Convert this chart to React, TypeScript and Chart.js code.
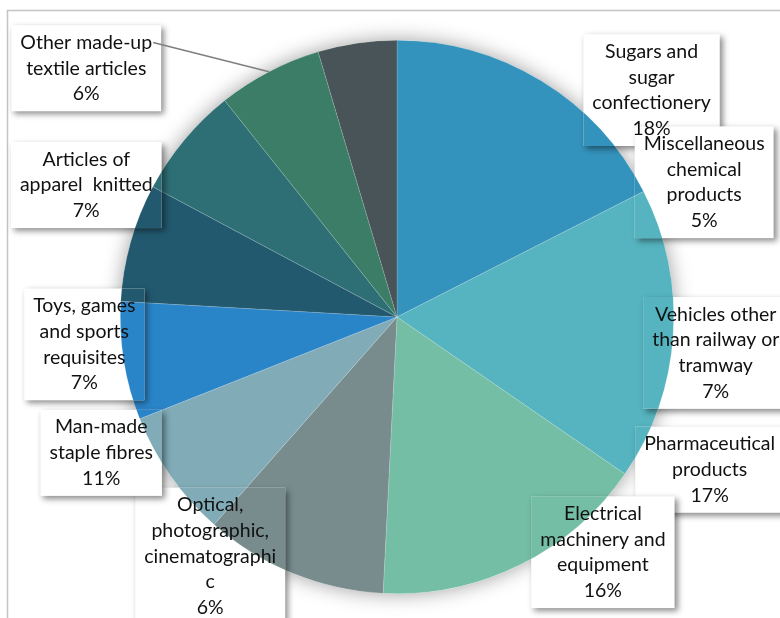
import React, { useEffect, useRef } from "react";
import { Chart, registerables } from "chart.js";

Chart.register(...registerables);

// Data labels, in the order they appear clockwise around the chart
const labelNames: string[] = [
  "Sugars and\nsugar\nconfectionery",
  "Miscellaneous\nchemical\nproducts",
  "Vehicles other\nthan railway or\ntramway",
  "Pharmaceutical\nproducts",
  "Electrical\nmachinery and\nequipment",
  "Optical,\nphotographic,\ncinematographi\nc",
  "Man-made\nstaple fibres",
  "Toys, games\nand sports\nrequisites",
  "Articles of\napparel  knitted",
  "Other made-up\ntextile articles",
];
const labelShares: number[] = [18, 5, 7, 17, 16, 6, 11, 7, 7, 6];

// Slice sizes (percent), clockwise from 12 o'clock
const sliceValues: number[] = [17.5, 17.1, 16.2, 10.7, 7.5, 6.9, 6.9, 6.5, 6.1, 4.6];
const sliceColors: string[] = [
  "#3493BC",
  "#55B4BF",
  "#74BEA5",
  "#788C8D",
  "#80ABB7",
  "#2A84C8",
  "#22596F",
  "#2E6F76",
  "#3B7D66",
  "#485457",
];

// Layout: label block centres relative to pie centre, in units of the radius
const labelOffsets: [number, number][] = [
  [0.92, -0.82],
  [1.11, -0.487],
  [1.152, 0.13],
  [1.13, 0.552],
  [0.744, 0.85],
  [-0.675, 0.865],
  [-1.069, 0.491],
  [-1.13, 0.099],
  [-1.123, -0.477],
  [-1.123, -0.899],
];
const leaderLabel = 9;
const leaderSlice = 8;

const FONT = "19.5px Lato";
const LINE_H = 25.7;
const PAD_X = 9;
const PAD_Y = 4.5;

type Box = { x: number; y: number; w: number; h: number; lines: string[]; cx: number; firstY: number };

function computeBoxes(chart: any): { boxes: Box[]; cx: number; cy: number; r: number } {
  const arc: any = chart.getDatasetMeta(0).data[0];
  const cx = arc.x;
  const cy = arc.y;
  const r = arc.outerRadius;
  const ctx: CanvasRenderingContext2D = chart.ctx;
  ctx.save();
  ctx.font = FONT;
  const boxes = labelNames.map((name, i) => {
    const lines = [...name.split("\n"), `${labelShares[i]}%`];
    const maxW = Math.max(...lines.map((l) => ctx.measureText(l).width));
    const bx = cx + labelOffsets[i][0] * r;
    const by = cy + labelOffsets[i][1] * r;
    const h = lines.length * LINE_H + 2 * PAD_Y;
    const w = maxW + 2 * PAD_X;
    return {
      x: bx - w / 2,
      y: by - h / 2,
      w,
      h,
      lines,
      cx: bx,
      firstY: by - ((lines.length - 1) / 2) * LINE_H,
    };
  });
  ctx.restore();
  return { boxes, cx, cy, r };
}

const decorPlugin = {
  id: "decor",
  beforeDraw(chart: any) {
    const ctx: CanvasRenderingContext2D = chart.ctx;
    const W = chart.width;
    const H = chart.height;
    ctx.save();
    ctx.fillStyle = "#FFFFFF";
    ctx.fillRect(0, 0, W, H);
    ctx.strokeStyle = "#C4C4C4";
    ctx.lineWidth = 1.5;
    ctx.beginPath();
    ctx.moveTo(7.5, H);
    ctx.lineTo(7.5, 10.5);
    ctx.lineTo(W, 10.5);
    ctx.stroke();
    ctx.restore();
  },
  beforeDatasetsDraw(chart: any) {
    const ctx: CanvasRenderingContext2D = chart.ctx;
    const { boxes, cx, cy, r } = computeBoxes(chart);
    // soft glow around the pie
    ctx.save();
    ctx.shadowColor = "rgba(0,0,0,0.38)";
    ctx.shadowBlur = 20;
    ctx.fillStyle = "#FFFFFF";
    ctx.beginPath();
    ctx.arc(cx, cy, r, 0, Math.PI * 2);
    ctx.fill();
    ctx.restore();
    // label boxes: white fill with drop shadow
    boxes.forEach((b) => {
      ctx.save();
      ctx.shadowColor = "rgba(0,0,0,0.45)";
      ctx.shadowBlur = 6;
      ctx.shadowOffsetX = 3;
      ctx.shadowOffsetY = 3;
      ctx.fillStyle = "#FFFFFF";
      ctx.fillRect(b.x, b.y, b.w, b.h);
      ctx.restore();
    });
  },
  afterDatasetsDraw(chart: any) {
    const ctx: CanvasRenderingContext2D = chart.ctx;
    const W = chart.width;
    const H = chart.height;
    const { boxes, cx, cy, r } = computeBoxes(chart);
    // box shadows that fall over the pie
    boxes.forEach((b) => {
      ctx.save();
      ctx.beginPath();
      ctx.arc(cx, cy, r, 0, Math.PI * 2);
      ctx.clip();
      ctx.beginPath();
      ctx.rect(0, 0, W, H);
      ctx.rect(b.x, b.y, b.w, b.h);
      ctx.clip("evenodd");
      ctx.shadowColor = "rgba(0,0,0,0.45)";
      ctx.shadowBlur = 6;
      ctx.shadowOffsetX = 3;
      ctx.shadowOffsetY = 3;
      ctx.fillStyle = "#FFFFFF";
      ctx.fillRect(b.x, b.y, b.w, b.h);
      ctx.restore();
    });
    // leader line
    const arc: any = chart.getDatasetMeta(0).data[leaderSlice];
    const mid = (arc.startAngle + arc.endAngle) / 2;
    const ex = cx + Math.cos(mid) * r;
    const ey = cy + Math.sin(mid) * r;
    const lb = boxes[leaderLabel];
    ctx.save();
    ctx.strokeStyle = "#7F7F7F";
    ctx.lineWidth = 1.5;
    ctx.beginPath();
    ctx.moveTo(lb.x + lb.w - 8, lb.firstY);
    ctx.lineTo(ex, ey);
    ctx.stroke();
    ctx.restore();
    // texts
    ctx.save();
    ctx.font = FONT;
    ctx.fillStyle = "#111111";
    ctx.textAlign = "center";
    ctx.textBaseline = "middle";
    boxes.forEach((b) => {
      b.lines.forEach((l, k) => {
        ctx.fillText(l, b.cx, b.firstY + k * LINE_H);
      });
    });
    ctx.restore();
  },
};

export default function App() {
  const ref = useRef<HTMLCanvasElement | null>(null);
  useEffect(() => {
    if (!ref.current) return;
    const chart = new Chart(ref.current, {
      type: "pie",
      data: {
        labels: labelNames.map((n) => n.replace(/\n/g, " ")),
        datasets: [
          {
            data: sliceValues,
            backgroundColor: sliceColors,
            borderColor: "rgba(255,255,255,0.25)",
            borderWidth: 0.6,
          },
        ],
      },
      options: {
        responsive: false,
        animation: false,
        layout: { padding: { left: 120, right: 106, top: 40, bottom: 24 } },
        plugins: {
          legend: { display: false },
          tooltip: { enabled: false },
        },
      },
      plugins: [decorPlugin],
    } as any);
    return () => chart.destroy();
  }, []);
  return (
    <div style={{ position: "fixed", left: 0, top: 0, width: 780, height: 618, background: "#fff" }}>
      <canvas ref={ref} width={780} height={618} style={{ width: 780, height: 618, display: "block" }} />
    </div>
  );
}
